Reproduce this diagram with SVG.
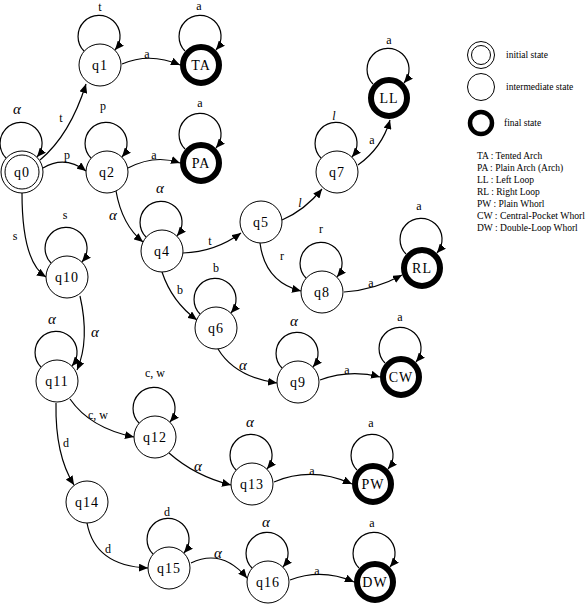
<svg xmlns="http://www.w3.org/2000/svg" width="587" height="605" viewBox="0 0 587 605">
<defs>
<marker id="ar" markerWidth="10" markerHeight="8" refX="9" refY="4" orient="auto" markerUnits="userSpaceOnUse">
<path d="M0,0 L9,4 L0,8 Z" fill="#000"/>
</marker>
<style>
.n{fill:#fff;stroke:#000;stroke-width:1}
.f{fill:#fff;stroke:#000;stroke-width:6}
.e{fill:none;stroke:#000;stroke-width:1.2;marker-end:url(#ar)}
.t{font-family:"Liberation Serif","DejaVu Serif",serif;font-size:14px;text-anchor:middle;dominant-baseline:central;letter-spacing:1px}
.l{font-family:"Liberation Serif","DejaVu Serif",serif;font-size:12px;text-anchor:middle}
.g{font-family:"Liberation Serif","DejaVu Serif",serif;font-size:15px;font-style:italic;text-anchor:middle}
.lg{font-family:"Liberation Serif","DejaVu Serif",serif;font-size:9.5px}
</style>
</defs>
<rect width="587" height="605" fill="#fff"/>
<g id="connectors">
<path class="e" d="M40,160 Q70,135 86,84"/>
<text class="l" x="61" y="122">t</text>
<path class="e" d="M43,168 Q65,155 86,171"/>
<text class="l" x="67" y="159">p</text>
<path class="e" d="M22,193 Q22,262 46,277"/>
<text class="l" x="15" y="240">s</text>
<path class="e" d="M122,64 Q150,52 180,65"/>
<text class="l" x="147" y="58">a</text>
<path class="e" d="M128,168 Q155,154 180,163"/>
<text class="l" x="154" y="159">a</text>
<path class="e" d="M116,191 Q122,225 143,242"/>
<text class="g" x="113" y="220">α</text>
<path class="e" d="M183,253 Q215,252 241,233"/>
<text class="l" x="210" y="245">t</text>
<path class="e" d="M162,272 Q172,302 197,320"/>
<text class="l" x="180" y="294">b</text>
<path class="e" d="M282,220 Q305,210 322,189"/>
<text class="g" x="300" y="207" style="font-size:12px">l</text>
<path class="e" d="M260,243 Q265,282 301,291"/>
<text class="l" x="282" y="260">r</text>
<path class="e" d="M358,165 Q382,148 390,120"/>
<text class="l" x="372" y="144">a</text>
<path class="e" d="M344,292 Q375,290 402,275"/>
<text class="l" x="371" y="287">a</text>
<path class="e" d="M218,349 Q235,377 277,383"/>
<text class="g" x="243" y="370">α</text>
<path class="e" d="M320,380 Q350,369 380,377"/>
<text class="l" x="347" y="374">a</text>
<path class="e" d="M80,296 Q90,340 77,370"/>
<text class="g" x="95" y="337">α</text>
<path class="e" d="M70,399 Q90,428 134,437"/>
<text class="l" x="98" y="419">c, w</text>
<path class="e" d="M56,403 Q55,455 74,485"/>
<text class="l" x="66" y="447">d</text>
<path class="e" d="M169,453 Q195,476 231,485"/>
<text class="g" x="198" y="471">α</text>
<path class="e" d="M274,482 Q312,466 352,484"/>
<text class="l" x="312" y="475">a</text>
<path class="e" d="M87,523 Q95,566 148,568"/>
<text class="l" x="108" y="553">d</text>
<path class="e" d="M191,563 Q222,548 247,578"/>
<text class="g" x="218" y="558">α</text>
<path class="e" d="M290,580 Q322,568 354,582"/>
<text class="l" x="317" y="575">a</text>
<path class="e" d="M84,51 A21,21 0 1 1 115,50"/>
<text class="l" x="100" y="11">t</text>
<path class="e" d="M185,51 A21,21 0 1 1 216,50"/>
<text class="l" x="199" y="10">a</text>
<path class="e" d="M6,158 A21,21 0 1 1 37,157"/>
<text class="g" x="17" y="114">α</text>
<path class="e" d="M91,158 A21,21 0 1 1 122,157"/>
<text class="l" x="103" y="110">p</text>
<path class="e" d="M185,149 A21,21 0 1 1 216,148"/>
<text class="l" x="200" y="107">a</text>
<path class="e" d="M146,237 A21,21 0 1 1 177,236"/>
<text class="g" x="160" y="193">α</text>
<path class="e" d="M373,84 A21,21 0 1 1 404,83"/>
<text class="l" x="389" y="44">a</text>
<path class="e" d="M321,158 A21,21 0 1 1 352,157"/>
<text class="g" x="334" y="120" style="font-size:12px">l</text>
<path class="e" d="M306,278 A21,21 0 1 1 337,277"/>
<text class="l" x="321" y="233">r</text>
<path class="e" d="M406,254 A21,21 0 1 1 437,253"/>
<text class="l" x="419" y="210">a</text>
<path class="e" d="M200,314 A21,21 0 1 1 231,313"/>
<text class="l" x="216" y="272">b</text>
<path class="e" d="M282,368 A21,21 0 1 1 313,367"/>
<text class="g" x="294" y="326">α</text>
<path class="e" d="M385,363 A21,21 0 1 1 416,362"/>
<text class="l" x="400" y="321">a</text>
<path class="e" d="M51,263 A21,21 0 1 1 82,262"/>
<text class="l" x="65" y="219">s</text>
<path class="e" d="M41,367 A21,21 0 1 1 72,366"/>
<text class="g" x="52" y="324">α</text>
<path class="e" d="M139,423 A21,21 0 1 1 170,422"/>
<text class="l" x="155" y="377">c, w</text>
<path class="e" d="M236,470 A21,21 0 1 1 267,469"/>
<text class="g" x="250" y="427">α</text>
<path class="e" d="M357,470 A21,21 0 1 1 388,469"/>
<text class="l" x="371" y="427">a</text>
<path class="e" d="M153,554 A21,21 0 1 1 184,553"/>
<text class="l" x="167" y="516">d</text>
<path class="e" d="M252,568 A21,21 0 1 1 283,567"/>
<text class="g" x="266" y="527">α</text>
<path class="e" d="M359,568 A21,21 0 1 1 390,567"/>
<text class="l" x="372" y="527">a</text>
</g>
<g id="q0"><circle class="n" cx="22" cy="172" r="21"/><circle class="n" cx="22" cy="172" r="17"/><text class="t" x="22" y="172">q0</text></g>
<g id="q1"><circle class="n" cx="100" cy="65" r="21"/><text class="t" x="100" y="65">q1</text></g>
<g id="TA"><circle class="f" cx="201" cy="65" r="18"/><text class="t" x="201" y="65">TA</text></g>
<g id="q2"><circle class="n" cx="107" cy="172" r="21"/><text class="t" x="107" y="172">q2</text></g>
<g id="PA"><circle class="f" cx="201" cy="163" r="18"/><text class="t" x="201" y="163">PA</text></g>
<g id="q4"><circle class="n" cx="162" cy="251" r="21"/><text class="t" x="162" y="251">q4</text></g>
<g id="q5"><circle class="n" cx="261" cy="222" r="21"/><text class="t" x="261" y="222">q5</text></g>
<g id="q7"><circle class="n" cx="337" cy="172" r="21"/><text class="t" x="337" y="172">q7</text></g>
<g id="LL"><circle class="f" cx="389" cy="98" r="18"/><text class="t" x="389" y="98">LL</text></g>
<g id="q8"><circle class="n" cx="322" cy="292" r="21"/><text class="t" x="322" y="292">q8</text></g>
<g id="RL"><circle class="f" cx="422" cy="268" r="18"/><text class="t" x="422" y="268">RL</text></g>
<g id="q6"><circle class="n" cx="216" cy="328" r="21"/><text class="t" x="216" y="328">q6</text></g>
<g id="q9"><circle class="n" cx="298" cy="382" r="21"/><text class="t" x="298" y="382">q9</text></g>
<g id="CW"><circle class="f" cx="401" cy="377" r="18"/><text class="t" x="401" y="377">CW</text></g>
<g id="q10"><circle class="n" cx="67" cy="277" r="21"/><text class="t" x="67" y="277">q10</text></g>
<g id="q11"><circle class="n" cx="57" cy="381" r="21"/><text class="t" x="57" y="381">q11</text></g>
<g id="q12"><circle class="n" cx="155" cy="437" r="21"/><text class="t" x="155" y="437">q12</text></g>
<g id="q13"><circle class="n" cx="252" cy="484" r="21"/><text class="t" x="252" y="484">q13</text></g>
<g id="PW"><circle class="f" cx="373" cy="484" r="18"/><text class="t" x="373" y="484">PW</text></g>
<g id="q14"><circle class="n" cx="87" cy="502" r="21"/><text class="t" x="87" y="502">q14</text></g>
<g id="q15"><circle class="n" cx="169" cy="568" r="21"/><text class="t" x="169" y="568">q15</text></g>
<g id="q16"><circle class="n" cx="268" cy="582" r="21"/><text class="t" x="268" y="582">q16</text></g>
<g id="DW"><circle class="f" cx="375" cy="582" r="18"/><text class="t" x="375" y="582">DW</text></g>
<g id="legend">
<circle class="n" cx="481" cy="55" r="13.5"/><circle class="n" cx="481" cy="55" r="9.5"/>
<text class="lg" x="506" y="58">initial state</text>
<circle class="n" cx="481" cy="87" r="13.5"/>
<text class="lg" x="506" y="90">intermediate  state</text>
<circle cx="481" cy="123" r="11" fill="#fff" stroke="#000" stroke-width="4.5"/>
<text class="lg" x="504" y="126">final state</text>
<text class="lg" x="477" y="159">TA : Tented Arch</text>
<text class="lg" x="477" y="171">PA : Plain Arch (Arch)</text>
<text class="lg" x="477" y="183">LL : Left Loop</text>
<text class="lg" x="477" y="195">RL : Right Loop</text>
<text class="lg" x="477" y="207">PW : Plain Whorl</text>
<text class="lg" x="477" y="219" textLength="108" lengthAdjust="spacingAndGlyphs">CW : Central-Pocket Whorl</text>
<text class="lg" x="477" y="231">DW : Double-Loop Whorl</text>
</g>
</svg>
